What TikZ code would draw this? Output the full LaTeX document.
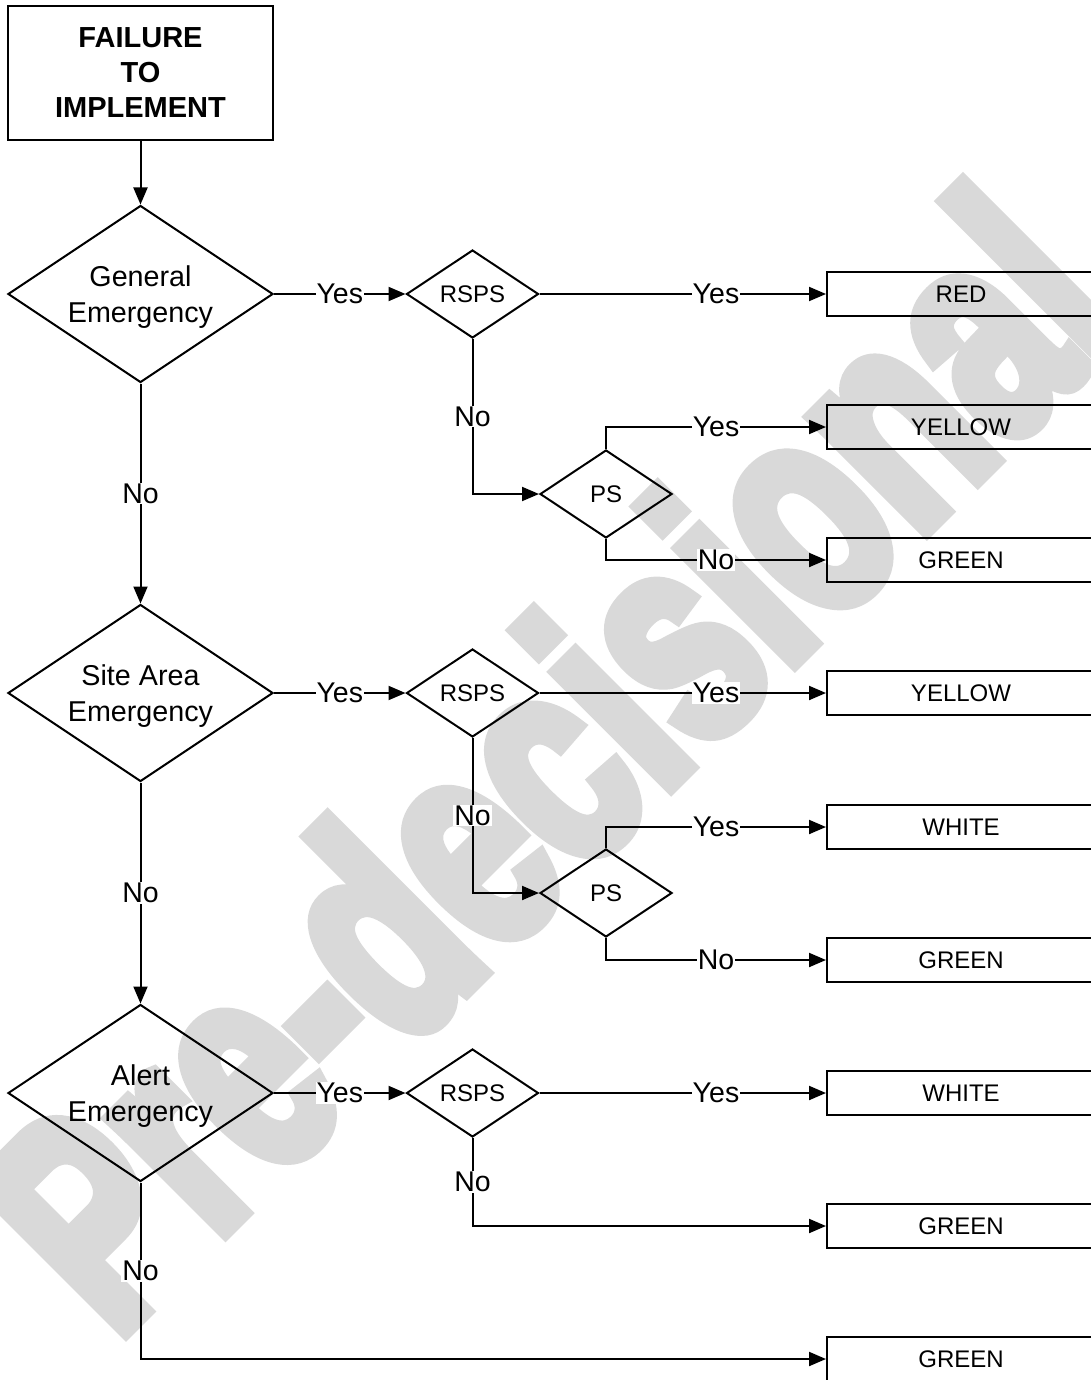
\documentclass[tikz,border=0pt]{standalone}
\usepackage{fontspec}
\setmainfont{Liberation Sans}
\newfontfamily\markfont[FakeBold=6]{Liberation Sans Bold}
\usepackage{tikz}
\usetikzlibrary{shapes.geometric, arrows.meta}
\tikzstyle{trigger} = [rectangle, draw, line width=2pt, minimum width=265pt, minimum height=134pt, align=center, font=\bfseries\fontsize{29}{35}\selectfont]
\tikzstyle{decision} = [diamond, draw, line width=2pt, shape aspect=1.5, inner sep=0pt, minimum width=265pt, minimum height=177pt, align=center, text depth=0pt, font=\fontsize{28.7}{36}\selectfont]
\tikzstyle{query} = [diamond, draw, line width=2pt, shape aspect=1.5, inner sep=0pt, minimum width=132pt, minimum height=88pt, font=\fontsize{24}{29}\selectfont]
\tikzstyle{outcome} = [rectangle, draw, line width=2pt, inner sep=0pt, minimum width=268pt, minimum height=44pt, font=\fontsize{24}{29}\selectfont]
\tikzstyle{answer} = [fill=white, inner sep=1pt, font=\fontsize{28.5}{34}\selectfont]
\tikzstyle{watermark} = [anchor=base west, inner sep=0pt, rotate=45, xscale=0.7, text=black!15, font=\markfont\fontsize{300}{300}\selectfont]
\tikzstyle{arrow} = [line width=2pt, -{Triangle[length=17pt, width=14pt]}]

\begin{document}
\begin{tikzpicture}[x=1pt, y=-1pt]
    \useasboundingbox (0,0) rectangle (1091,1380);
    \node [watermark] at (114,1341) (mark) {Pre-decisional};

    \node [trigger] at (140.5,73) (fail) {FAILURE\\TO\\IMPLEMENT};
    \node [decision] at (140.5,294) (general) {General\\Emergency};
    \node [decision] at (140.5,693) (site) {Site Area\\Emergency};
    \node [decision] at (140.5,1093) (alert) {Alert\\Emergency};

    \node [query] at (472.5,294) (rsps1) {RSPS};
    \node [query] at (472.5,693) (rsps2) {RSPS};
    \node [query] at (472.5,1093) (rsps3) {RSPS};
    \node [query] at (606,494) (ps1) {PS};
    \node [query] at (606,893) (ps2) {PS};

    \node [outcome] at (961,294) (red) {RED};
    \node [outcome] at (961,427) (yellow1) {YELLOW};
    \node [outcome] at (961,560) (green1) {GREEN};
    \node [outcome] at (961,693) (yellow2) {YELLOW};
    \node [outcome] at (961,827) (white2) {WHITE};
    \node [outcome] at (961,960) (green2) {GREEN};
    \node [outcome] at (961,1093) (white3) {WHITE};
    \node [outcome] at (961,1226) (green3) {GREEN};
    \node [outcome] at (961,1359) (green4) {GREEN};

    \draw [arrow] (fail) -- (general);
    \draw [arrow] (general) -- node [answer] {Yes} (rsps1);
    \draw [arrow] (rsps1) -- node [answer, pos=0.616] {Yes} (red);
    \draw [arrow] (rsps1) |- node [answer, pos=0.25] {No} (ps1);
    \draw [arrow] (ps1) |- node [answer, pos=0.75] {Yes} (yellow1);
    \draw [arrow] (ps1) |- node [answer, pos=0.75] {No} (green1);
    \draw [arrow] (general) -- node [answer] {No} (site);

    \draw [arrow] (site) -- node [answer] {Yes} (rsps2);
    \draw [arrow] (rsps2) -- node [answer, pos=0.616] {Yes} (yellow2);
    \draw [arrow] (rsps2) |- node [answer, pos=0.25] {No} (ps2);
    \draw [arrow] (ps2) |- node [answer, pos=0.75] {Yes} (white2);
    \draw [arrow] (ps2) |- node [answer, pos=0.75] {No} (green2);
    \draw [arrow] (site) -- node [answer] {No} (alert);

    \draw [arrow] (alert) -- node [answer] {Yes} (rsps3);
    \draw [arrow] (rsps3) -- node [answer, pos=0.616] {Yes} (white3);
    \draw [arrow] (rsps3) |- node [answer, pos=0.25] {No} (green3);
    \draw [arrow] (alert) |- node [answer, pos=0.25] {No} (green4);
\end{tikzpicture}
\end{document}
